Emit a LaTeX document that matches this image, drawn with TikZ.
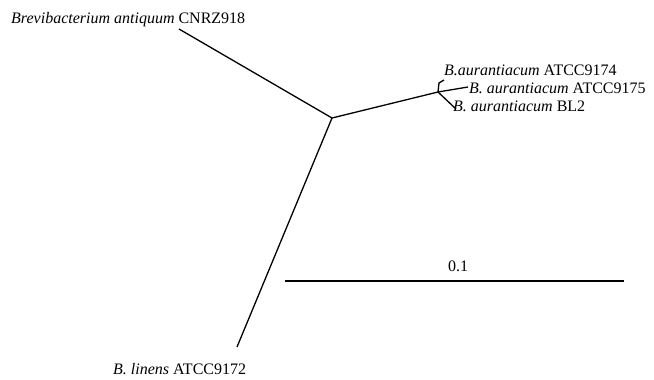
\documentclass[tikz,border=0pt]{standalone}
\usepackage{fontspec}
\setmainfont{Liberation Serif}
\begin{document}
\begin{tikzpicture}[x=1pt,y=-1pt,
  br/.style={line width=1.3pt},
  lab/.style={font=\fontsize{16}{19}\selectfont, inner sep=0pt}]
\useasboundingbox (0,0) rectangle (654,380);
\coordinate (r) at (332,118);
\coordinate (c) at (438,92);
\coordinate (ba) at (179,29);
\coordinate (bl) at (237,347);
\coordinate (k1) at (439,83);
\coordinate (a1) at (444,80);
\coordinate (a2) at (468,87);
\coordinate (a3) at (456,109);
\draw[br] (r) -- (ba);
\draw[br] (r) -- (bl);
\draw[br] (r) -- (c);
\draw[br] (c) -- (k1) -- (a1);
\draw[br] (c) -- (a2);
\draw[br] (c) -- (a3);
\node[lab, anchor=west] (tba) at (11,20) {\textit{Brevibacterium antiquum} CNRZ918};
\node[lab, anchor=west] (t1) at (444,70) {\textit{B.aurantiacum} ATCC9174};
\node[lab, anchor=west] (t2) at (469,88) {\textit{B. aurantiacum} ATCC9175};
\node[lab, anchor=west] (t3) at (453,106) {\textit{B. aurantiacum} BL2};
\node[lab, anchor=west] (tbl) at (113,369) {\textit{B. linens} ATCC9172};
\coordinate (s1) at (285,281);
\coordinate (s2) at (624,281);
\draw[line width=1.2pt] (s1) -- (s2);
\node[lab] (sl) at (458,266) {0.1};
\end{tikzpicture}
\end{document}
